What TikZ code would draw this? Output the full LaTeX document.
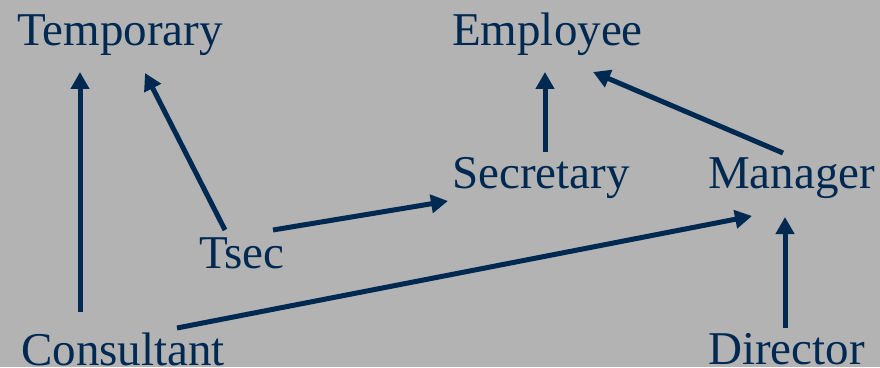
\documentclass[tikz,border=0pt]{standalone}
\usepackage{fontspec}
\setmainfont{Liberation Serif}
\usetikzlibrary{arrows.meta}
\definecolor{navy}{RGB}{0, 41, 82}
\definecolor{bggray}{RGB}{179, 179, 179}
\newcommand\fs{\fontsize{47}{50}\selectfont}
\newcommand\lw{5pt}
\tikzset{
  cls/.style={text=navy, font=\fs, inner sep=0pt, anchor=base west},
  isa/.style={draw=navy, line width=\lw, -{Triangle[length=17pt, width=18pt]}}
}

\begin{document}
\begin{tikzpicture}[x=1pt, y=1pt]
    \useasboundingbox (0,0) rectangle (880,367);
    \fill[bggray] (0,0) rectangle (880,367);

    \node (tmp) [cls] at (17,321) {Temporary};
    \node (emp) [cls] at (452,321) {Employee};
    \node (sec) [cls] at (452,178) {Secretary};
    \node (man) [cls] at (708,178) {Manager};
    \node (tsec) [cls] at (199,99) {Tsec};
    \node (cons) [cls] at (21,2) {Consultant};
    \node (dir) [cls] at (708,3) {Director};

    \draw[isa] ([shift={(59pt,53pt)}]cons.base west) -- ([shift={(63pt,-26pt)}]tmp.base west);
    \draw[isa] ([shift={(26pt,38pt)}]tsec.base west) -- ([shift={(128pt,-27pt)}]tmp.base west);
    \draw[isa] ([shift={(74pt,38pt)}]tsec.base west) -- ([shift={(-4pt,-12pt)}]sec.base west);
    \draw[isa] ([shift={(156pt,37pt)}]cons.base west) -- ([shift={(44pt,-27pt)}]man.base west);
    \draw[isa] ([shift={(93pt,37pt)}]sec.base west) -- ([shift={(93pt,-26pt)}]emp.base west);
    \draw[isa] ([shift={(75pt,36pt)}]man.base west) -- ([shift={(141pt,-26pt)}]emp.base west);
    \draw[isa] ([shift={(77pt,36pt)}]dir.base west) -- ([shift={(77pt,-28pt)}]man.base west);

\end{tikzpicture}
\end{document}
